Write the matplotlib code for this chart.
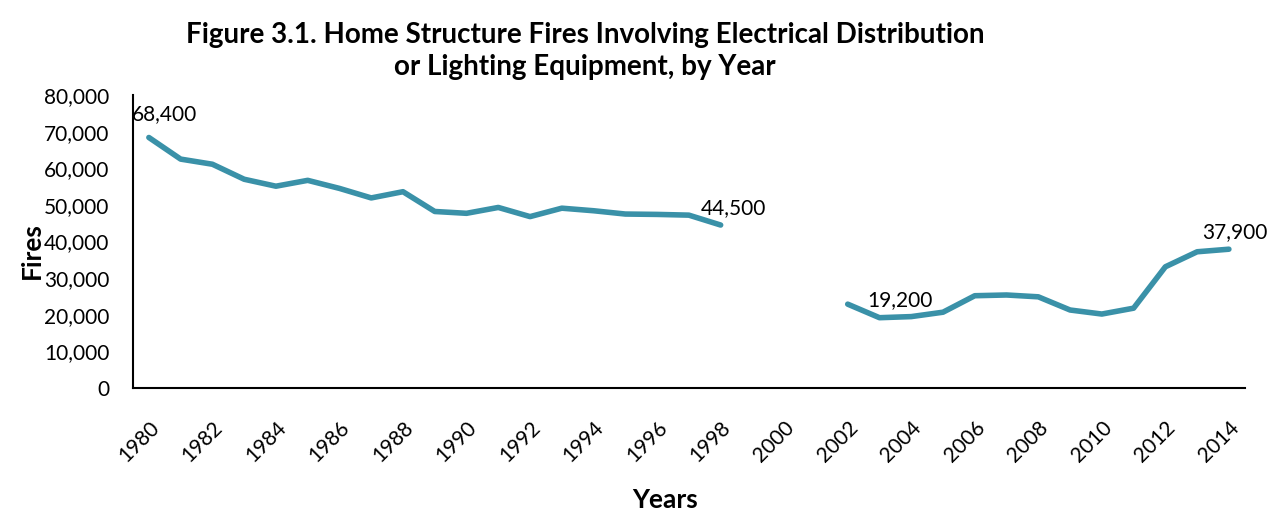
import numpy as np
import matplotlib
import matplotlib.pyplot as plt

plt.rcParams['font.family'] = ['Lato', 'DejaVu Sans']

years = list(range(1980, 2015))
fires = [68400, 62500, 61100, 57000, 55100, 56700, 54500, 51900, 53600,
         48200, 47700, 49300, 46800, 49100, 48400, 47500, 47400, 47200, 44500,
         np.nan, np.nan, np.nan,
         22900, 19200, 19500, 20700, 25200, 25400, 24900, 21300, 20200, 21800,
         33100, 37200, 37900]
labelled_years = [1980, 1998, 2003, 2014]

fig = plt.figure(figsize=(12.75, 5.2), dpi=100)
ax = fig.add_axes([0.1043, 0.2538, 0.872, 0.5635])

x = np.arange(len(years))
ax.plot(x, fires, color='#3A91A8', linewidth=4, solid_capstyle='round', solid_joinstyle='round')

# data labels (offsets in points from the data point)
offsets = {1980: (-12, 17), 1998: (-14, 12.5), 2003: (-9, 12.5), 2014: (-19, 12.5)}
for yr in labelled_years:
    i = years.index(yr)
    dx, dy = offsets[yr]
    ax.annotate(f'{fires[i]:,.0f}', (x[i], fires[i]), xytext=(dx, dy), textcoords='offset points',
                ha='left', va='center', fontsize=15, color='black')

ax.set_xlim(-0.5, len(years) - 0.5)
ax.set_ylim(0, 80000)
ax.set_yticks(range(0, 80001, 10000))
ax.set_yticklabels([f'{v:,}' for v in range(0, 80001, 10000)], fontsize=15)
ax.set_xticks(x[::2])
ax.set_xticklabels([str(y) for y in years[::2]], rotation=45, ha='right',
                   rotation_mode='anchor', fontsize=15)
ax.tick_params(axis='both', length=0)
ax.tick_params(axis='y', pad=17)
ax.tick_params(axis='x', pad=21)

for s in ['top', 'right']:
    ax.spines[s].set_visible(False)
for s in ['left', 'bottom']:
    ax.spines[s].set_linewidth(1.5)

ax.set_ylabel('Fires', fontsize=19, fontweight='bold')
ax.yaxis.set_label_coords(-0.0805, 0.47)
fig.text(0.522, 0.038, 'Years', ha='center', va='center', fontsize=19, fontweight='bold')
fig.text(0.459, 0.902, 'Figure 3.1. Home Structure Fires Involving Electrical Distribution\nor Lighting Equipment, by Year',
         ha='center', va='center', fontsize=20, fontweight='bold', linespacing=1.25)

fig.savefig('out.png', dpi=100)
